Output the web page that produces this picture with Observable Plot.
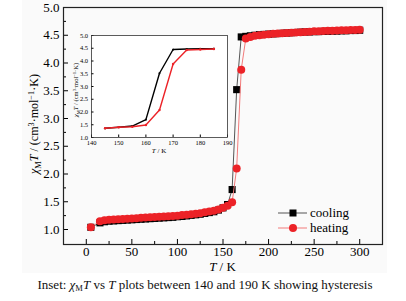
<!DOCTYPE html>
<html><head><meta charset="utf-8">
<script src="https://cdn.jsdelivr.net/npm/d3@7"></script>
<script src="https://cdn.jsdelivr.net/npm/@observablehq/plot@0.6"></script>
<style>
body{margin:0;background:#fff;}
#wrap{position:relative;width:406px;height:301px;font-family:"Liberation Serif","Times New Roman",serif;}
#bg{position:absolute;left:22px;top:0;width:365px;height:273px;background:#fafafa;}
#chart{position:absolute;left:0;top:0;}
#inset{position:absolute;left:60px;top:30px;}
#cap{position:absolute;left:0;top:278px;width:410px;text-align:center;font-size:13px;line-height:14px;color:#111;white-space:nowrap;}
#cap sub{font-size:8.5px;vertical-align:-2px;line-height:0;}
</style></head><body>
<div id="wrap"><div id="bg"></div><div id="chart"></div><div id="inset"></div>
<div id="cap">Inset: <i>χ</i><sub>M</sub><i>T</i> vs <i>T</i> plots between 140 and 190 K showing hysteresis</div></div>
<script>
// ---- data ----
const coolT = [5,15,20,25,30,35,40,45,50,55,60,65,70,75,80,85,90,95,100,105,110,115,120,125,130,135,140,145,150,155,160,165,170,175,180,185,190,195,200,205,210,215,220,225,230,235,240,245,250,255,260,265,270,275,280,285,290,295,300];
const coolChi = [1.04,1.12,1.14,1.15,1.155,1.16,1.165,1.17,1.175,1.18,1.185,1.19,1.195,1.20,1.205,1.21,1.215,1.22,1.23,1.235,1.245,1.255,1.265,1.275,1.29,1.305,1.32,1.35,1.39,1.45,1.72,3.52,4.47,4.48,4.49,4.50,4.51,4.515,4.52,4.525,4.53,4.535,4.54,4.545,4.55,4.555,4.56,4.56,4.565,4.565,4.57,4.57,4.575,4.575,4.58,4.58,4.585,4.585,4.59];
const heatT = [5,15,20,25,30,35,40,45,50,55,60,65,70,75,80,85,90,95,100,105,110,115,120,125,130,135,140,145,150,155,160,165,170,175,180,185,190,195,200,205,210,215,220,225,230,235,240,245,250,255,260,265,270,275,280,285,290,295,300];
const heatChi = [1.04,1.15,1.165,1.175,1.18,1.185,1.19,1.195,1.20,1.205,1.21,1.215,1.22,1.225,1.23,1.235,1.24,1.245,1.25,1.26,1.265,1.275,1.285,1.295,1.31,1.325,1.34,1.36,1.39,1.43,1.49,2.10,3.88,4.44,4.47,4.49,4.50,4.51,4.52,4.525,4.53,4.535,4.54,4.545,4.55,4.555,4.56,4.565,4.57,4.57,4.575,4.58,4.58,4.585,4.59,4.59,4.595,4.595,4.60];
const insetT = [145,150,155,160,165,170,175,180,185];
const insetCool = [1.36,1.40,1.45,1.70,3.52,4.45,4.47,4.48,4.48];
const insetHeat = [1.36,1.40,1.42,1.49,2.08,3.88,4.43,4.45,4.47];
const xTicks = [0,50,100,150,200,250,300];
const xMinor = [25,75,125,175,225,275];
const yTicks = [1.0,1.5,2.0,2.5,3.0,3.5,4.0,4.5,5.0];
const yMinor = [1.25,1.75,2.25,2.75,3.25,3.75,4.25,4.75];
const insetXTicks = [140,150,160,170,180,190];
const insetYTicks = [1.0,1.5,2.0,2.5,3.0,3.5,4.0,4.5,5.0];
const seriesNames = ["cooling","heating"];

const cool = coolT.map((t,i)=>({T:t, chi:coolChi[i]}));
const heat = heatT.map((t,i)=>({T:t, chi:heatChi[i]}));
const iCool = insetT.map((t,i)=>({T:t, chi:insetCool[i]}));
const iHeat = insetT.map((t,i)=>({T:t, chi:insetHeat[i]}));

const RED = "#ec2227";
const serif = "Liberation Serif, Times New Roman, serif";
const f1 = d3.format(".1f");

const W=406, H=274, mL=63, mR=24, mT=7, mB=30;
const main = Plot.plot({
  width: W, height: H, marginLeft: mL, marginRight: mR, marginTop: mT, marginBottom: mB,
  style: {fontFamily: serif, fontSize: "13px", background: "transparent", color: "#000"},
  x: {domain: [-25, 325]},
  y: {domain: [0.73, 5.0]},
  marks: [
    Plot.axisX(xTicks, {tickSize: -5, tickPadding: 7.5, label: null, tickFormat: d => String(d)}),
    Plot.axisX(xMinor, {tickSize: -3, fill: "none", label: null}),
    Plot.axisY(yTicks, {tickSize: -5, tickPadding: 9, label: null, tickFormat: f1}),
    Plot.axisY(yMinor, {tickSize: -3, fill: "none", label: null}),
    Plot.line(cool, {x: "T", y: "chi", stroke: "#555", strokeWidth: 1}),
    Plot.dot(cool, {x: "T", y: "chi", symbol: "square", fill: "#000", r: 4}),
    Plot.line(heat, {x: "T", y: "chi", stroke: "#f27a7a", strokeWidth: 1}),
    Plot.dot(heat, {x: "T", y: "chi", symbol: "circle", fill: RED, r: 4}),
    Plot.frame({stroke: "#222", strokeWidth: 1.2})
  ]
});

const IX=60, IY=30, IW=175, IH=130, imL=31, imR=8, imT=5, imB=23;
const inset = Plot.plot({
  width: IW, height: IH, marginLeft: imL, marginRight: imR, marginTop: imT, marginBottom: imB,
  style: {fontFamily: serif, fontSize: "6.5px", background: "transparent", color: "#000"},
  x: {domain: [140, 190]},
  y: {domain: [1.0, 5.0]},
  marks: [
    Plot.frame({fill: "#fff", stroke: "none"}),
    Plot.axisX(insetXTicks, {tickSize: -2.5, tickPadding: 5.5, label: null, tickFormat: d => String(d)}),
    Plot.axisY(insetYTicks, {tickSize: -2.5, tickPadding: 6, label: null, tickFormat: f1}),
    Plot.line(iCool, {x: "T", y: "chi", stroke: "#000", strokeWidth: 1.4}),
    Plot.dot(iCool, {x: "T", y: "chi", symbol: "square", fill: "#000", r: 1}),
    Plot.line(iHeat, {x: "T", y: "chi", stroke: RED, strokeWidth: 1.4}),
    Plot.dot(iHeat, {x: "T", y: "chi", fill: RED, r: 1.2}),
    Plot.frame({stroke: "#333", strokeWidth: 0.8})
  ]
});

const svg = d3.select(main);

// label: χ_M T / (cm^3·mol^-1·K) with tspans for sub/superscripts
function chiLabel(sel, fs){
  const sub = fs * 0.7, sh = fs * 0.25, sup = fs * 0.35;
  sel.append("tspan").attr("font-style","italic").text("χ");
  sel.append("tspan").attr("font-size", sub).attr("dy", sh).text("M");
  sel.append("tspan").attr("font-style","italic").attr("dy", -sh).text("T");
  sel.append("tspan").text(" / (cm");
  sel.append("tspan").attr("font-size", sub).attr("dy", -sup).text("3");
  sel.append("tspan").attr("dy", sup).text("·mol");
  sel.append("tspan").attr("font-size", sub).attr("dy", -sup).text("−1");
  sel.append("tspan").attr("dy", sup).text("·K)");
}
const yl = svg.append("text").attr("transform", `translate(38,124) rotate(-90)`)
  .attr("text-anchor","middle").attr("font-family", serif).attr("font-size", 12).attr("fill","#000");
chiLabel(yl, 12);
const xl = svg.append("text").attr("x", (mL + W - mR)/2).attr("y", 270.5).attr("text-anchor","middle")
  .attr("font-family", serif).attr("font-size", 13).attr("fill","#000");
xl.append("tspan").attr("font-style","italic").text("T");
xl.append("tspan").text(" / K");

const isvg = d3.select(inset);
const iyl = isvg.append("text").attr("transform", `translate(${78-IX},${90-IY}) rotate(-90)`)
  .attr("text-anchor","middle").attr("font-family", serif).attr("font-size", 6.5).attr("fill","#000");
chiLabel(iyl, 6.5);
const ixl = isvg.append("text").attr("x", (imL + IW - imR)/2).attr("y", 153 - IY).attr("text-anchor","middle")
  .attr("font-family", serif).attr("font-size", 7).attr("fill","#000");
ixl.append("tspan").attr("font-style","italic").text("T");
ixl.append("tspan").text(" / K");

// legend
const leg = svg.append("g").attr("font-family", serif).attr("font-size", 13);
const legY = [213, 228];
seriesNames.forEach((name, i) => {
  const g = leg.append("g").attr("transform", `translate(0,${legY[i]})`);
  g.append("line").attr("x1", 278).attr("x2", 307).attr("y1", 0).attr("y2", 0)
    .attr("stroke", i === 0 ? "#555" : "#f27a7a").attr("stroke-width", 1);
  if (i === 0) g.append("rect").attr("x", 289.5).attr("y", -3.5).attr("width", 7).attr("height", 7).attr("fill", "#000");
  else g.append("circle").attr("cx", 293).attr("cy", 0).attr("r", 4).attr("fill", RED);
  g.append("text").attr("x", 310).attr("y", 4).attr("text-anchor", "start").attr("fill", "#000").text(name);
});

document.getElementById("chart").appendChild(main);
document.getElementById("inset").appendChild(inset);
</script>
</body></html>
